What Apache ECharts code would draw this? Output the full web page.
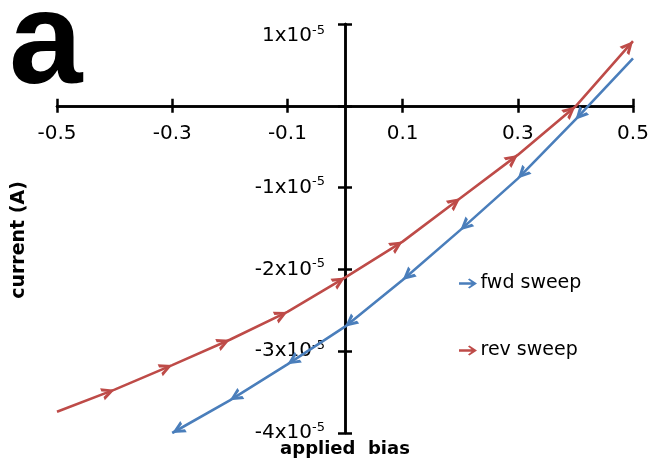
<!DOCTYPE html>
<html>
<head>
<meta charset="utf-8">
<script src="https://cdn.jsdelivr.net/npm/echarts@6/dist/echarts.min.js"></script>
<style>
html, body { margin: 0; background: #fff; }
#chart { width: 653px; height: 461px; }
</style>
</head>
<body>
<div id="chart"></div>
<script>
// applied bias (V) and current (A)
var revBias = [-0.5, -0.4, -0.3, -0.2, -0.1, 0, 0.1, 0.2, 0.3, 0.4, 0.5];
var revCurrent = [-3.74e-5, -3.47e-5, -3.17e-5, -2.86e-5, -2.52e-5, -2.10e-5, -1.66e-5, -1.13e-5, -0.60e-5, -0.01e-5, 0.79e-5];
var fwdBias = [0.5, 0.4, 0.3, 0.2, 0.1, 0, -0.1, -0.2, -0.3];
var fwdCurrent = [0.58e-5, -0.17e-5, -0.89e-5, -1.52e-5, -2.13e-5, -2.70e-5, -3.16e-5, -3.60e-5, -4.0e-5];
var xTicks = [-0.5, -0.3, -0.1, 0.1, 0.3, 0.5];
var seriesNames = ['fwd sweep', 'rev sweep'];

var X_MIN = -0.5, X_MAX = 0.5, Y_MIN = -4e-5, Y_MAX = 1e-5;
var G = { left: 57, right: 20, top: 24, bottom: 28 };
var W = 653, H = 461;
var gw = W - G.left - G.right, gh = H - G.top - G.bottom;
// distance of the zero lines from each grid edge (axes cross at the origin)
var zeroFromLeft = gw * (0 - X_MIN) / (X_MAX - X_MIN);
var zeroFromTop = gh * (Y_MAX - 0) / (Y_MAX - Y_MIN);

var BLUE = '#4A7EBB', RED = '#BE4B48';
// open arrowhead whose tip sits at the symbol centre (extra point at x=20 widens the box)
var ARROW = 'path://M20,4.99L20,5.01L20,5ZM0,0L10,5L0,10L0,7.3L5.4,5L0,2.7Z';
var LEGEND_ARROW = 'path://M0,3.8L12.5,3.8L9,0.9L10.4,0L18,5L10.4,10L9,9.1L12.5,6.2L0,6.2Z';

var chart = echarts.init(document.getElementById('chart'));

function baseX(pos, offset, labels) {
    return {
        type: 'value', position: pos, offset: offset, min: X_MIN, max: X_MAX, interval: 0.1,
        axisLine: { onZero: false, lineStyle: { color: '#000', width: 2.5 } },
        axisTick: { show: true, length: 7, customValues: xTicks, lineStyle: { color: '#000', width: 2.5 } },
        axisLabel: {
            show: labels, customValues: xTicks, margin: 18,
            fontFamily: 'DejaVu Sans', fontSize: 20, color: '#000',
            formatter: function (v) { return String(Math.round(v * 10) / 10); }
        },
        splitLine: { show: false }
    };
}
function baseY(pos, offset, labels) {
    return {
        type: 'value', position: pos, offset: offset, min: Y_MIN, max: Y_MAX, interval: 1e-5,
        axisLine: { onZero: false, lineStyle: { color: '#000', width: 2.5 } },
        axisTick: { show: true, length: 7, lineStyle: { color: '#000', width: 2.5 } },
        axisLabel: {
            show: labels, margin: 20, verticalAlignMaxLabel: 'top',
            formatter: function (v) {
                var n = Math.round(v / 1e-5);
                if (n === 0) return '';
                return '{b|' + n + 'x10}{s|-5}';
            },
            rich: {
                b: { fontFamily: 'DejaVu Sans', fontSize: 20, color: '#000', lineHeight: 24 },
                s: { fontFamily: 'DejaVu Sans', fontSize: 13, color: '#000', verticalAlign: 'top', lineHeight: 14 }
            }
        },
        splitLine: { show: false }
    };
}

function makeSeries(name, color, xs, ys, rot) {
    return {
        name: name, type: 'line', xAxisIndex: 0, yAxisIndex: 0,
        data: xs.map(function (x, i) {
            var item = { value: [x, ys[i]] };
            if (i === 0) item.symbol = 'none';
            else if (rot) item.symbolRotate = rot[i];
            return item;
        }),
        showAllSymbol: true,
        symbol: ARROW, symbolSize: [26, 13],
        lineStyle: { color: color, width: 2.6 },
        itemStyle: { color: color },
        emphasis: { disabled: true },
        z: 3
    };
}

function buildOption(rotFwd, rotRev) {
    return {
        animation: false,
        grid: { left: G.left, right: G.right, top: G.top, bottom: G.bottom, outerBoundsMode: 'none' },
        xAxis: [
            baseX('bottom', -(gh - zeroFromTop), true),
            baseX('top', -zeroFromTop, false)
        ],
        yAxis: [
            baseY('left', -zeroFromLeft, true),
            baseY('right', -(gw - zeroFromLeft), false)
        ],
        legend: {
            data: seriesNames, orient: 'vertical', left: 459, top: 274, padding: 0,
            itemGap: 48, itemWidth: 19, itemHeight: 10, icon: LEGEND_ARROW,
            selectedMode: false,
            textStyle: { fontFamily: 'DejaVu Sans', fontSize: 19, color: '#000', padding: [0, 0, 0, -2] }
        },
        graphic: [
            { type: 'text', x: 9, y: 47, style: { text: 'a', font: 'bold 132px "Liberation Sans"', fill: '#000', verticalAlign: 'middle' } },
            { type: 'text', x: 345, y: 449, style: { text: 'applied  bias', font: 'bold 18px "DejaVu Sans"', fill: '#000', align: 'center', verticalAlign: 'middle' } },
            { type: 'text', x: 19, y: 240, rotation: Math.PI / 2, style: { text: 'current (A)', font: 'bold 19px "DejaVu Sans"', fill: '#000', align: 'center', verticalAlign: 'middle' } }
        ],
        series: [
            makeSeries(seriesNames[0], BLUE, fwdBias, fwdCurrent, rotFwd),
            makeSeries(seriesNames[1], RED, revBias, revCurrent, rotRev)
        ]
    };
}

chart.setOption(buildOption(null, null));

// point each arrow along the segment that arrives at it
function angles(idx, xs, ys) {
    return xs.map(function (x, i) {
        if (i === 0) return 0;
        var p0 = chart.convertToPixel({ seriesIndex: idx }, [xs[i - 1], ys[i - 1]]);
        var p1 = chart.convertToPixel({ seriesIndex: idx }, [x, ys[i]]);
        return -Math.atan2(p1[1] - p0[1], p1[0] - p0[0]) * 180 / Math.PI;
    });
}
chart.setOption(buildOption(angles(0, fwdBias, fwdCurrent), angles(1, revBias, revCurrent)));
</script>
</body>
</html>
